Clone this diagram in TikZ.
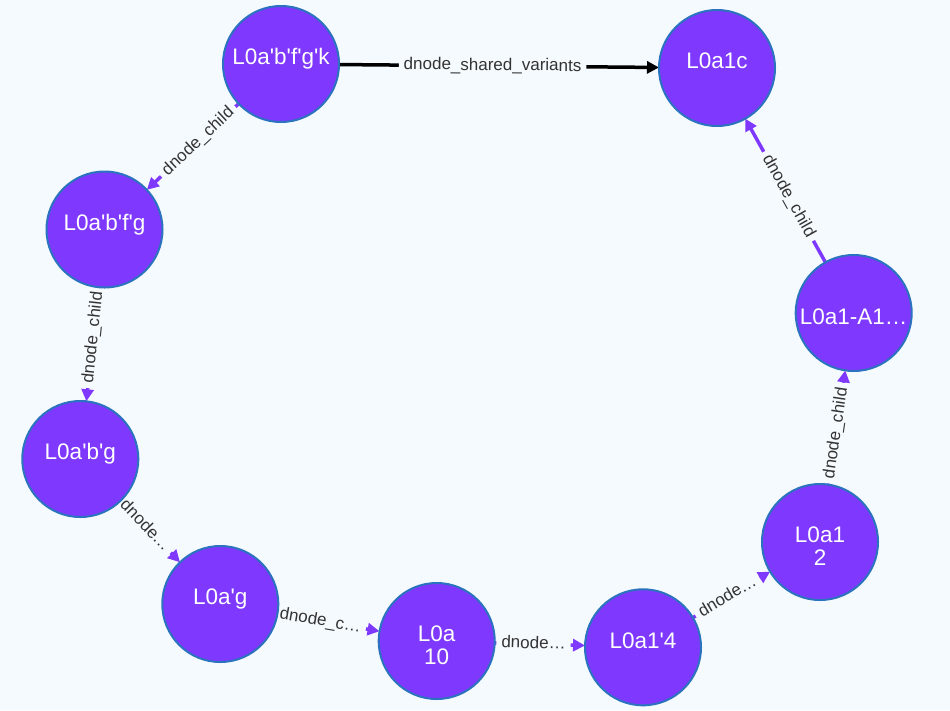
\documentclass[tikz,border=0pt]{standalone}
\usepackage{fontspec}
\setmainfont{Liberation Sans}[Ligatures=TeXOff]
\usetikzlibrary{arrows.meta}
\pgfdeclarelayer{back}
\pgfdeclarelayer{edges}
\pgfsetlayers{back,edges,main}
\definecolor{bgc}{RGB}{245,250,254}
\definecolor{nodefill}{RGB}{127,56,254}
\definecolor{nodeedge}{RGB}{43,115,190}
\definecolor{edgep}{RGB}{127,56,254}
\definecolor{lbl}{RGB}{51,51,51}
\tikzset{
  circ/.style={circle, fill=nodefill, draw=nodeedge, line width=2pt, minimum size=116pt, inner sep=0pt, outer sep=0pt},
  ntext/.style={text=white, font=\fontsize{22.5}{23}\selectfont, text height=16.1pt, text depth=0pt, inner sep=0pt},
  ntwo/.style={text=white, font=\fontsize{22.5}{23}\selectfont, align=center, inner sep=0pt},
  rel/.style={draw=edgep, line width=3.5pt, -{Triangle[length=12pt,width=12pt]}},
  relb/.style={rel, draw=black},
  elab/.style={fill=bgc, text=lbl, font=\fontsize{17}{20}\selectfont, sloped, inner xsep=5pt, inner ysep=1pt, text height=12pt, text depth=3pt},
}
\begin{document}
\begin{tikzpicture}[x=1pt,y=-1pt]
\begin{pgfonlayer}{back}
\fill[bgc] (0,0) rectangle (950,710);
\end{pgfonlayer}
\useasboundingbox (0,0) rectangle (950,710);

\node[circ, label={[ntext, yshift=7.5pt]center:L0a'b'f'g'k}] (k) at (281,64) {};
\node[circ, label={[ntext, yshift=7.5pt]center:L0a1c}] (c) at (717,68) {};
\node[circ, label={[ntext, yshift=7.5pt]center:L0a'b'f'g}] (fg) at (104.5,229.5) {};
\node[circ, label={[ntext, yshift=7.5pt]center:L0a'b'g}] (bg) at (80.3,459) {};
\node[circ, label={[ntext, yshift=7.5pt]center:L0a'g}] (g) at (220.3,604) {};
\node[circ, label={[ntwo, yshift=-4pt]center:L0a\\10}] (a10) at (436.7,641) {};
\node[circ, label={[ntext, yshift=6.5pt]center:L0a1'4}] (a14) at (643,647.3) {};
\node[circ, label={[ntwo, yshift=-4pt]center:L0a1\\2}] (a12) at (820,542) {};
\node[circ, label={[ntext, yshift=-3.5pt]center:L0a1-A1…}] (A1) at (853.7,313) {};

\begin{pgfonlayer}{edges}
\draw[relb] (k) -- node[elab, pos=0.48] {dnode\_shared\_variants} (c);
\draw[rel] (k) -- node[elab, pos=0.44] {dnode\_child} (fg);
\draw[rel] (fg) -- node[elab, pos=0.44] {dnode\_child} (bg);
\draw[rel] (bg) -- node[elab, pos=0.41] {dnode…} (g);
\draw[rel] (g) -- node[elab, pos=0.42] {dnode\_c…} (a10);
\draw[rel] (a10) -- node[elab, pos=0.43] {dnode…} (a14);
\draw[rel] (a14) -- node[elab, pos=0.45] {dnode…} (a12);
\draw[rel] (a12) -- node[elab, pos=0.45] {dnode\_child} (A1);
\draw[rel] (A1) -- node[elab, pos=0.46] {dnode\_child} (c);
\end{pgfonlayer}
\end{tikzpicture}
\end{document}
